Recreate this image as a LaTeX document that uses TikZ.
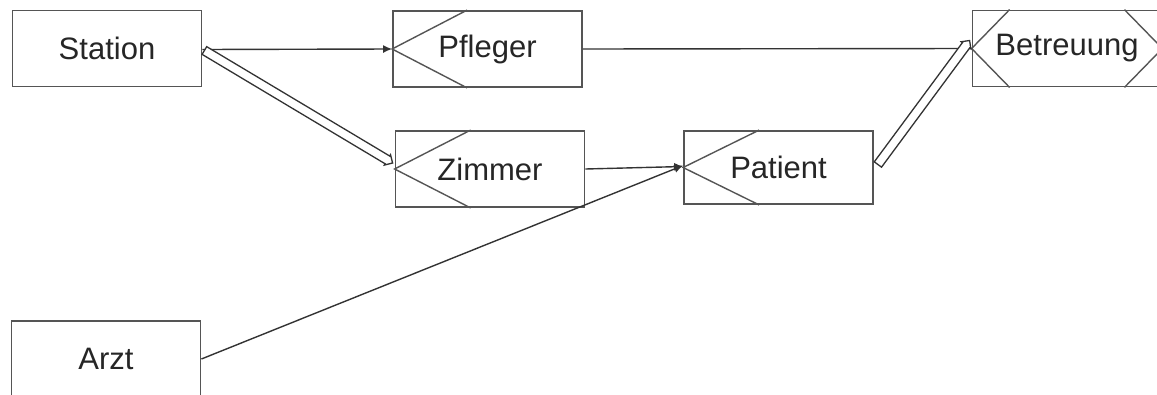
\documentclass[tikz,border=0pt]{standalone}
\usepackage{fontspec}
\setmainfont{Liberation Sans}
\usetikzlibrary{arrows.meta,calc}
\definecolor{boxgray}{HTML}{555555}
\definecolor{linegray}{HTML}{333333}
\newcommand{\hollowarrow}[2]{%
  \draw[hollow] ($(#1)!4.5pt!90:(#2)$)
    -- ($($(#2)!6pt!(#1)$)!4.5pt!-90:(#1)$)
    -- ($($(#2)!6pt!(#1)$)!6pt!-90:(#1)$)
    -- (#2)
    -- ($($(#2)!6pt!(#1)$)!6pt!90:(#1)$)
    -- ($($(#2)!6pt!(#1)$)!4.5pt!90:(#1)$)
    -- ($(#1)!4.5pt!-90:(#2)$) -- cycle;}
\begin{document}
\begin{tikzpicture}[x=1pt,y=-1pt,
  ent/.style={draw=boxgray, line width=1.8pt, fill=white, minimum width=189pt, minimum height=76pt, inner sep=0pt, font=\fontsize{31}{34}\selectfont, text=black!85},
  chev/.style={draw=boxgray, line width=1.4pt},
  conn/.style={draw=linegray, line width=1.4pt, -{Latex[length=9pt,width=8pt]}},
  hollow/.style={draw=linegray, line width=1.3pt, fill=white, line join=miter}
]
\useasboundingbox (0,0) rectangle (1157,394);
\node[ent] (station) at (107,48.5) {Station};
\node[ent] (pfleger) at (487.5,49) {Pfleger};
\node[ent] (zimmer) at (490,169) {Zimmer};
\node[ent, minimum height=73pt] (patient) at (778.5,167.5) {Patient};
\node[ent] (betreuung) at (1067,48.5) {Betreuung};
\node[ent] (arzt) at (106,359) {Arzt};
% chevrons
\draw[chev] ([xshift=75pt]pfleger.north west) -- (pfleger.west) -- ([xshift=75pt]pfleger.south west);
\draw[chev] ([xshift=76pt]zimmer.north west) -- (zimmer.west) -- ([xshift=76pt]zimmer.south west);
\draw[chev] ([xshift=76pt]patient.north west) -- (patient.west) -- ([xshift=76pt]patient.south west);
\draw[chev] ([xshift=38pt]betreuung.north west) -- (betreuung.west) -- ([xshift=38pt]betreuung.south west);
\draw[chev] ([xshift=-38pt]betreuung.north east) -- (betreuung.east) -- ([xshift=-38pt]betreuung.south east);
% connectors
\coordinate (st1) at ([yshift=-1pt]station.east);
\draw[conn] (st1) -- (pfleger.west);
\draw[conn] (pfleger.east) -- (betreuung.west);
\draw[conn] (zimmer.east) -- ([yshift=1pt]patient.west);
\coordinate (pin) at ([yshift=2pt]patient.west);
\draw[conn] (arzt.east) -- (pin);
\coordinate (hs) at ([xshift=2pt,yshift=-2pt]station.east);
\coordinate (ze) at ([xshift=-2pt,yshift=6pt]zimmer.west);
\hollowarrow{hs}{ze}
\coordinate (ps) at ([xshift=4pt,yshift=3pt]patient.east);
\coordinate (be) at ([xshift=-2pt,yshift=8pt]betreuung.west);
\hollowarrow{ps}{be}
\end{tikzpicture}
\end{document}
